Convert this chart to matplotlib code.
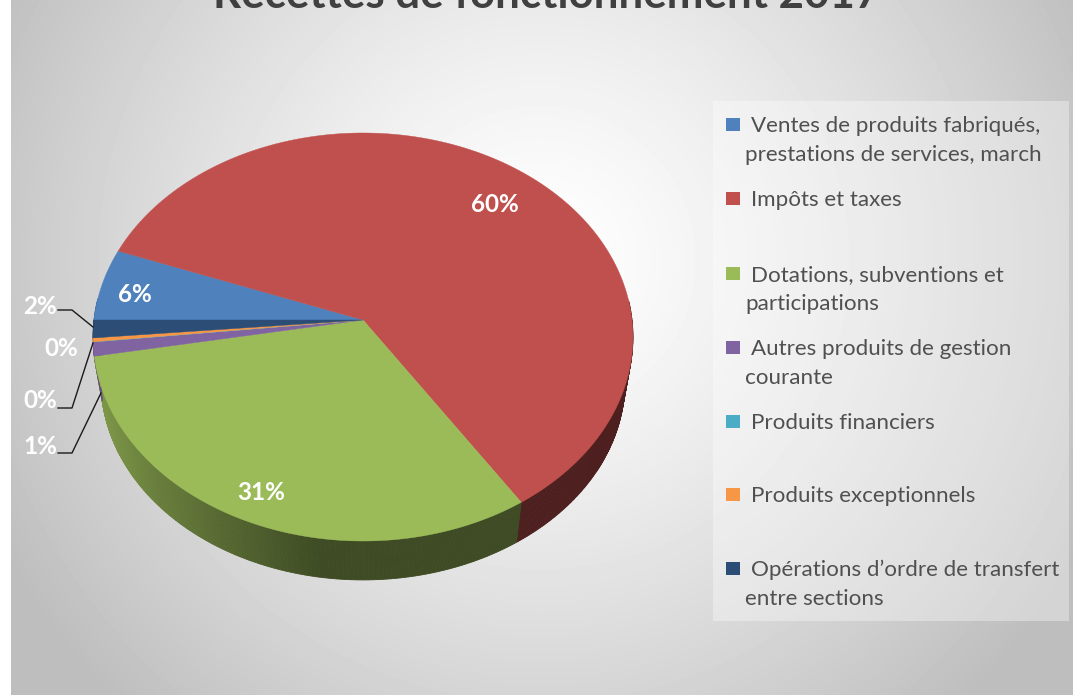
import numpy as np
import matplotlib
matplotlib.use("Agg")
import matplotlib.pyplot as plt
from matplotlib.collections import PolyCollection
from matplotlib.patches import Rectangle

W, H = 1073, 695

title = "Recettes de fonctionnement 2017"

# same order as the legend, clockwise from the left of the pie
categories = [
    "Ventes de produits fabriqués,\nprestations de services, march",
    "Impôts et taxes",
    "Dotations, subventions et\nparticipations",
    "Autres produits de gestion\ncourante",
    "Produits financiers",
    "Produits exceptionnels",
    "Opérations d’ordre de transfert\nentre sections",
]
shares = [5.7, 60.1, 31.4, 1.1, 0.02, 0.3, 1.4]
pct_labels = ["6%", "60%", "31%", "1%", "0%", "0%", "2%"]
colors = ["#4f81bd", "#c0504d", "#9bbb59", "#8064a2", "#4bacc6", "#f79646", "#2c4d75"]

# layout, in pixels of the reference
label_pos = [(135, 294), (495, 204), (261, 493), (40, 447), (40, 401), (61, 348), (40, 306)]
leaders = {
    3: [(58, 453), (72, 453), (101, 393)],
    4: [(58, 408), (72, 408), (93, 343)],
    6: [(58, 310), (72, 310), (93, 327)],
}
legend_y = [124, 198, 273, 347, 421, 494, 568]
line_gap = 29

APEX = (363, 320)
A, B, K = 269.0, 202.6, 0.0833
DEPTH_SCALE = 0.97
ELL_Y = 337
LOW_Y = 382


def project(deg):
    # tilted disc seen in perspective, the centre lands on APEX
    t = np.radians(deg)
    u, v = np.cos(t), np.sin(t)
    w = 1 + K * v
    return APEX[0] + A * u / w, APEX[1] - B * v / w


def lower(x, y):
    return APEX[0] + DEPTH_SCALE * (x - APEX[0]), LOW_Y + DEPTH_SCALE * (y - ELL_Y)


def wall_shade(x):
    return np.interp(x, [100, 150, 220, 320], [0.80, 0.68, 0.56, 0.40])


fig = plt.figure(figsize=(W / 100, H / 100), dpi=100)
ax = fig.add_axes([0, 0, 1, 1])
ax.set_xlim(0, W)
ax.set_ylim(H, 0)
ax.axis("off")
plt.rcParams["font.family"] = ["Lato", "DejaVu Sans"]

# background gradient
yy, xx = np.mgrid[0:H, 0:W]
dist = np.hypot(xx - 540, yy - 260) / 600
shade = np.clip(1.0 - 0.25 * dist ** 1.3, 0.745, 1)
shade[:, :11] = 1.0
ax.imshow(shade, cmap="gray", vmin=0, vmax=1, extent=(0, W, H, 0), aspect="auto", zorder=0)

fractions = np.array(shares) / np.sum(shares)
edges = 180 - 360 * np.concatenate([[0], np.cumsum(fractions)])

# side wall first, then the top face over it
quads, quad_colors = [], []
for i, col in enumerate(colors):
    base = np.array(matplotlib.colors.to_rgb(col))
    angles = np.arange(edges[i], edges[i + 1], -0.5)
    angles = np.append(angles, edges[i + 1])
    for a0, a1 in zip(angles[:-1], angles[1:]):
        x0, y0 = project(a0)
        x1, y1 = project(a1)
        if np.sin(np.radians(a0)) > 0.1:
            continue
        quads.append([(x0, y0), (x1, y1), lower(x1, y1), lower(x0, y0)])
        quad_colors.append(base * wall_shade((x0 + x1) / 2))
ax.add_collection(PolyCollection(quads, facecolors=quad_colors, edgecolors=quad_colors, linewidths=0.6, zorder=2))

for i, col in enumerate(colors):
    angles = np.linspace(edges[i], edges[i + 1], 200)
    xs, ys = project(angles)
    ax.fill(np.r_[APEX[0], xs], np.r_[APEX[1], ys], color=col, lw=0.3, zorder=3)

for i, pts in leaders.items():
    ax.plot(*zip(*pts), color="#1a1a1a", lw=1.0, zorder=4)

for lab, (x, y) in zip(pct_labels, label_pos):
    ax.text(x, y, lab, color="white", fontsize=17.5, fontweight="bold", ha="center", va="center", zorder=5)

# the title is cut by the top edge in the reference too
ax.text(547, 8, title, color="#404040", fontsize=31.6, fontweight="bold", ha="center", va="baseline", zorder=5)

# legend
ax.add_patch(Rectangle((713, 101), 356, 520, facecolor="white", alpha=0.35, edgecolor="none", zorder=1))
for name, col, y in zip(categories, colors, legend_y):
    ax.add_patch(Rectangle((726, y - 6), 14, 13, facecolor=col, edgecolor="none", zorder=5))
    for j, line in enumerate(name.split("\n")):
        ax.text(751 if j == 0 else 745, y + 2 + j * line_gap, line, color="#505050", fontsize=16.15,
                ha="left", va="center", zorder=5)

fig.savefig("out.png", dpi=100)
